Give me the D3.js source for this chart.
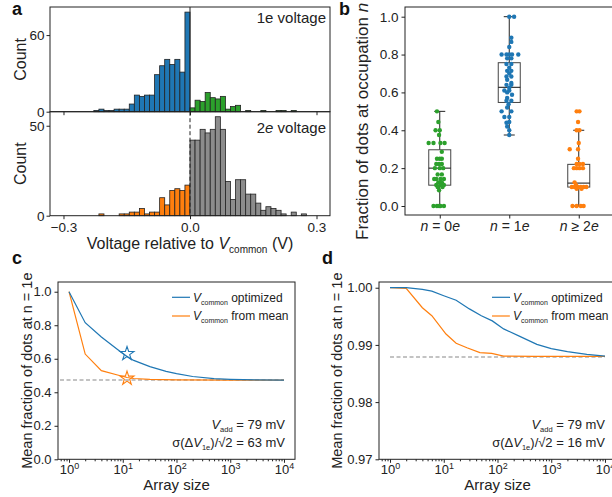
<!DOCTYPE html>
<html>
<head>
<meta charset="utf-8">
<script src="https://cdn.jsdelivr.net/npm/d3@7"></script>
<style>
  body { margin: 0; background: #fff; }
</style>
</head>
<body>
<div id="chart"></div>
<script>
const FONT = "'Liberation Sans', Arial, Helvetica, sans-serif";

// ---- panel a: histogram counts (bin width 0.012 V, listed left to right)
const BIN_W = 0.012;
const blue1eStart = -0.228;
const blue1e = [1, 2, 1, 1, 2, 2, 2, 6, 13, 12, 13, 13, 29, 36, 41, 37, 41, 31, 78];
const green1eStart = 0;
const green1e = [3, 9, 8, 15, 11, 10, 12, 2, 4, 5, 0, 1, 0, 0, 1, 0, 0, 1, 1, 0, 1];
const orange2eStart = -0.216;
const orange2e = [1, 0, 0, 0, 1, 1, 2, 2, 4, 1, 2, 2, 10, 6, 14, 15, 14, 17];
const gray2eStart = 0;
const gray2e = [42, 42, 48, 46, 48, 55, 48, 19, 9, 20, 20, 12, 12, 7, 3, 5, 4, 3, 1, 0, 2, 0, 1];
const voltTicks = [-0.3, 0, 0.3];
const countTicksTop = [0, 60];
const countTicksBot = [0, 50];

// ---- panel b: fraction per occupation
const occSigns = [" = 0", " = 1", " \u2265 2"];
const greenVals = [0.5, 0.444, 0.4, 0.4, 0.375, 0.333, 0.333, 0.333, 0.333, 0.286, 0.25, 0.25, 0.25, 0.222, 0.222, 0.222, 0.2, 0.2, 0.2, 0.167, 0.167, 0.143, 0.143, 0.143, 0.143, 0.125, 0.125, 0.111, 0.111, 0.111, 0.1, 0.1, 0.083, 0, 0, 0, 0, 0];
const greenJit  = [-0.04, -0.02, -0.06, 0, -0.01, -0.16, -0.09, 0.01, 0.07, 0.03, -0.04, 0.03, 0, -0.05, 0.03, -0.01, -0.07, 0, 0.05, 0.03, -0.03, -0.05, 0.01, 0.06, -0.08, -0.02, 0.03, -0.05, 0.01, 0.06, -0.03, 0.04, -0.01, -0.09, -0.04, 0.01, 0.06, -0.01];
const blueVals = [1, 1, 0.889, 0.867, 0.84, 0.8, 0.8, 0.8, 0.8, 0.8, 0.78, 0.78, 0.75, 0.75, 0.73, 0.714, 0.714, 0.7, 0.684, 0.684, 0.667, 0.65, 0.64, 0.64, 0.625, 0.61, 0.61, 0.6, 0.588, 0.571, 0.556, 0.556, 0.538, 0.52, 0.5, 0.5, 0.47, 0.47, 0.444, 0.44, 0.42, 0.4, 0.375];
const blueJit  = [0, 0.07, 0.03, 0.03, 0, -0.11, -0.04, 0, 0.04, 0.13, -0.03, 0.03, -0.04, 0.03, 0, -0.03, 0.03, 0, -0.04, 0.03, -0.03, 0.03, -0.04, 0.03, 0, -0.07, 0, -0.03, 0.04, -0.03, -0.04, 0.03, -0.01, -0.03, -0.11, 0.03, -0.07, 0, 0, -0.04, -0.03, 0, 0];
const orangeVals = [0.5, 0.5, 0.444, 0.4, 0.4, 0.333, 0.3, 0.3, 0.25, 0.222, 0.222, 0.222, 0.2, 0.2, 0.2, 0.2, 0.125, 0.111, 0.1, 0.1, 0.1, 0.1, 0.1, 0.1, 0.091, 0.091, 0, 0, 0, 0];
const orangeJit  = [-0.03, 0.01, -0.01, -0.03, 0.01, 0, -0.13, -0.01, -0.01, -0.03, 0.01, 0.06, -0.03, 0.01, 0.06, -0.07, -0.06, -0.04, -0.1, -0.06, -0.01, 0.03, 0.07, 0.11, -0.03, 0.04, -0.09, -0.03, 0.03, 0.07];
// box stats: [low whisker, q1, median, q3, high whisker]
const boxStats = [
  [0, 0.11, 0.2, 0.297, 0.5],
  [0.375, 0.547, 0.627, 0.757, 1.0],
  [0, 0.10, 0.121, 0.22, 0.4]
];
const fracTicks = [0, 0.2, 0.4, 0.6, 0.8, 1.0];

// ---- panel c: mean fraction vs array size (sigma 63 mV)
const cOptX = [1, 2, 4, 8, 12, 16, 32, 64, 100, 200, 500, 1000, 3000, 10000];
const cOptY = [1.0, 0.815, 0.73, 0.655, 0.613, 0.59, 0.553, 0.525, 0.511, 0.494, 0.481, 0.477, 0.474, 0.473];
const cMeanX = [1, 2, 4, 8, 12, 16, 32, 100, 1000, 10000];
const cMeanY = [1.0, 0.628, 0.529, 0.503, 0.488, 0.482, 0.477, 0.474, 0.473, 0.473];
const cLimit = 0.473;
const cStars = [[12, 0.63], [12, 0.483]];
const cTicks = [0, 0.2, 0.4, 0.6, 0.8, 1.0];

// ---- panel d: mean fraction vs array size (sigma 16 mV)
const dOptX = [1, 2, 4, 6, 10, 17, 30, 50, 80, 130, 260, 540, 1000, 2000, 4600, 10000];
const dOptY = [1.0, 1.0, 0.9997, 0.9994, 0.9986, 0.9978, 0.9963, 0.9951, 0.9942, 0.9928, 0.9915, 0.9901, 0.98935, 0.98882, 0.98835, 0.98805];
const dMeanX = [1, 2, 4, 6, 11, 17, 27, 47, 78, 130, 500, 10000];
const dMeanY = [1.0, 0.9999, 0.9965, 0.9951, 0.9919, 0.9903, 0.9895, 0.98865, 0.98853, 0.98805, 0.988, 0.98798];
const dLimit = 0.98788;
const dTicks = [0.97, 0.98, 0.99, 1.00];

const sizeTicks = [1, 10, 100, 1000, 10000];
const sizeMinor = [0.7, 0.8, 0.9, 2, 3, 4, 5, 6, 7, 8, 9, 20, 30, 40, 50, 60, 70, 80, 90,
  200, 300, 400, 500, 600, 700, 800, 900, 2000, 3000, 4000, 5000, 6000, 7000, 8000, 9000];

const C_BLUE = "#1f77b4", C_ORANGE = "#ff7f0e", C_GREEN = "#2ca02c", C_GRAY = "#8c8c8c";
const INK = "#222";

const svg = d3.select("#chart").append("svg")
  .attr("width", 612).attr("height", 497)
  .style("font-family", FONT);

function tidy(g, fs) {
  g.select(".domain").remove();
  g.selectAll(".tick line").attr("stroke", INK);
  g.selectAll(".tick text").attr("fill", INK).attr("font-size", fs).attr("font-family", FONT);
}

function frame(x0, y0, x1, y1) {
  svg.append("rect").attr("x", x0).attr("y", y0).attr("width", x1 - x0).attr("height", y1 - y0)
    .attr("fill", "none").attr("stroke", INK).attr("stroke-width", 1);
}

function panelLabel(txt, x, y) {
  svg.append("text").attr("x", x).attr("y", y).attr("font-size", 18).attr("font-weight", "bold")
    .attr("fill", "#111").text(txt);
}

// ================= panel a =================
const xA = d3.scaleLinear().domain([-0.332, 0.332]).range([50, 330]);
const yTop = d3.scaleLinear().domain([0, 82]).range([111.7, 7]);
const yBot = d3.scaleLinear().domain([0, 57.8]).range([215.7, 111.7]);

function histBars(counts, start, color, y) {
  const bins = counts.map((c, i) => ({ x0: start + i * BIN_W, c }));
  svg.append("g").selectAll("rect")
    .data(bins.filter(b => b.c > 0))
    .join("rect")
    .attr("x", b => xA(b.x0))
    .attr("width", b => xA(b.x0 + BIN_W) - xA(b.x0))
    .attr("y", b => y(b.c))
    .attr("height", b => y(0) - y(b.c))
    .attr("fill", color)
    .attr("stroke", INK)
    .attr("stroke-width", 0.8);
}

histBars(blue1e, blue1eStart, C_BLUE, yTop);
histBars(green1e, green1eStart, C_GREEN, yTop);
histBars(orange2e, orange2eStart, C_ORANGE, yBot);
histBars(gray2e, gray2eStart, C_GRAY, yBot);

// zero lines
svg.append("line").attr("x1", xA(0)).attr("x2", xA(0)).attr("y1", yTop.range()[1]).attr("y2", yTop(0))
  .attr("stroke", INK).attr("stroke-width", 1);
svg.append("line").attr("x1", xA(0)).attr("x2", xA(0)).attr("y1", yBot.range()[1]).attr("y2", yBot(0))
  .attr("stroke", INK).attr("stroke-width", 1).attr("stroke-dasharray", "4,2.5");

frame(50, 7, 330, 111.7);
frame(50, 111.7, 330, 215.7);

svg.append("g").attr("transform", "translate(50,0)")
  .call(d3.axisLeft(yTop).tickValues(countTicksTop).tickSize(3.5).tickPadding(2))
  .call(g => tidy(g, 13.5));
svg.append("g").attr("transform", "translate(50,0)")
  .call(d3.axisLeft(yBot).tickValues(countTicksBot).tickSize(3.5).tickPadding(2))
  .call(g => tidy(g, 13.5));
svg.append("g").attr("transform", `translate(0,${yTop(0)})`)
  .call(d3.axisBottom(xA).tickValues(voltTicks).tickSize(3.5).tickFormat(""))
  .call(g => tidy(g, 13.5));
svg.append("g").attr("transform", `translate(0,${yBot(0)})`)
  .call(d3.axisBottom(xA).tickValues(voltTicks).tickSize(3.5).tickPadding(3)
    .tickFormat(d => d3.format(".1f")(d).replace("-", "\u2212")))
  .call(g => tidy(g, 13.5));

svg.append("text").attr("x", 326).attr("y", 23).attr("text-anchor", "end")
  .attr("font-size", 15).attr("fill", INK).text("1e voltage");
const t2e = svg.append("text").attr("x", 326).attr("y", 133).attr("text-anchor", "end")
  .attr("font-size", 15).attr("fill", INK);
t2e.append("tspan").text("2");
t2e.append("tspan").attr("font-style", "italic").text("e");
t2e.append("tspan").text(" voltage");

[59.4, 163.7].forEach(cy => {
  svg.append("text").attr("transform", `translate(26,${cy}) rotate(-90)`)
    .attr("text-anchor", "middle").attr("font-size", 16).attr("fill", INK).text("Count");
});

const xl = svg.append("text").attr("x", 190).attr("y", 249).attr("text-anchor", "middle")
  .attr("font-size", 16).attr("fill", INK);
xl.append("tspan").text("Voltage relative to ");
xl.append("tspan").attr("font-style", "italic").text("V");
xl.append("tspan").attr("font-size", 10).attr("dy", 4).text("common");
xl.append("tspan").attr("dy", -4).text(" (V)");

panelLabel("a", 12, 15);

// ================= panel b =================
const xB = d3.scaleLinear().domain([-0.5, 2.5]).range([405, 613.5]);
const yB = d3.scaleLinear().domain([0, 1]).range([206, 16.7]);
const bw = 22;

frame(405, 7, 613.5, 215);

boxStats.forEach((s, i) => {
  const cx = xB(i);
  const g = svg.append("g");
  g.append("line").attr("x1", cx).attr("x2", cx).attr("y1", yB(s[0])).attr("y2", yB(s[1])).attr("stroke", INK);
  g.append("line").attr("x1", cx).attr("x2", cx).attr("y1", yB(s[3])).attr("y2", yB(s[4])).attr("stroke", INK);
  [s[0], s[4]].forEach(v => g.append("line").attr("x1", cx - bw / 4).attr("x2", cx + bw / 4)
    .attr("y1", yB(v)).attr("y2", yB(v)).attr("stroke", INK));
  g.append("rect").attr("x", cx - bw / 2).attr("width", bw).attr("y", yB(s[3])).attr("height", yB(s[1]) - yB(s[3]))
    .attr("fill", "none").attr("stroke", "#444").attr("stroke-width", 1);
  g.append("line").attr("x1", cx - bw / 2).attr("x2", cx + bw / 2).attr("y1", yB(s[2])).attr("y2", yB(s[2]))
    .attr("stroke", "#111").attr("stroke-width", 1);
});

[[greenVals, greenJit, C_GREEN, 0], [blueVals, blueJit, C_BLUE, 1], [orangeVals, orangeJit, C_ORANGE, 2]]
  .forEach(([vals, jit, col, i]) => {
    svg.append("g").selectAll("circle")
      .data(vals.map((v, k) => ({ v, j: jit[k] })))
      .join("circle")
      .attr("cx", d => xB(i + d.j))
      .attr("cy", d => yB(d.v))
      .attr("r", 2.2)
      .attr("fill", col);
  });

svg.append("g").attr("transform", "translate(405,0)")
  .call(d3.axisLeft(yB).tickValues(fracTicks).tickSize(3.5).tickPadding(3).tickFormat(d3.format(".1f")))
  .call(g => tidy(g, 13.5));
svg.append("g").attr("transform", "translate(0,215)")
  .call(d3.axisBottom(xB).tickValues([0, 1, 2]).tickSize(3.5).tickPadding(3))
  .call(g => tidy(g, 14))
  .call(g => g.selectAll(".tick text").each(function (d) {
    const t = d3.select(this).text("");
    t.append("tspan").attr("font-style", "italic").text("n");
    t.append("tspan").text(occSigns[d]);
    t.append("tspan").attr("font-style", "italic").text("e");
  }));

const yl = svg.append("text").attr("transform", "translate(368,240) rotate(-90)")
  .attr("text-anchor", "start").attr("font-size", 17).attr("fill", INK);
yl.append("tspan").text("Fraction of dots at occupation ");
yl.append("tspan").attr("font-style", "italic").text("n");

panelLabel("b", 339, 15);

// ================= panels c and d =================
function arrayPanel(opts) {
  const x = d3.scaleLog().domain([Math.pow(10, -0.205), Math.pow(10, 4.205)]).range([opts.x0, opts.x1]);
  const y = d3.scaleLinear().domain(opts.yDom).range([459.3, 282]);
  const line = d3.line().x(d => x(d[0])).y(d => y(d[1]));

  svg.append("line").attr("x1", x(opts.dashFrom)).attr("x2", x(10000)).attr("y1", y(opts.limit)).attr("y2", y(opts.limit))
    .attr("stroke", "#888").attr("stroke-width", 1.1).attr("stroke-dasharray", "4,2.5");

  svg.append("path").datum(opts.meanX.map((v, i) => [v, opts.meanY[i]]))
    .attr("d", line).attr("fill", "none").attr("stroke", C_ORANGE).attr("stroke-width", 1.2);
  svg.append("path").datum(opts.optX.map((v, i) => [v, opts.optY[i]]))
    .attr("d", line).attr("fill", "none").attr("stroke", C_BLUE).attr("stroke-width", 1.2);

  (opts.stars || []).forEach((s, i) => {
    svg.append("path").attr("d", d3.symbol(d3.symbolStar, 60)())
      .attr("transform", `translate(${x(s[0])},${y(s[1])})`)
      .attr("fill", "none").attr("stroke", i === 0 ? C_BLUE : C_ORANGE).attr("stroke-width", 1.1);
  });

  frame(opts.x0, 282, opts.x1, 459.3);

  svg.append("g").attr("transform", `translate(${opts.x0},0)`)
    .call(d3.axisLeft(y).tickValues(opts.yTicks).tickSize(3.5).tickPadding(3).tickFormat(d3.format(opts.yFmt)))
    .call(g => tidy(g, 13));
  svg.append("g").attr("transform", "translate(0,459.3)")
    .call(d3.axisBottom(x).tickValues(sizeMinor.filter(v => x(v) > opts.x0 && x(v) < opts.x1)).tickSize(2).tickFormat(""))
    .call(g => tidy(g, 13));
  svg.append("g").attr("transform", "translate(0,459.3)")
    .call(d3.axisBottom(x).tickValues(sizeTicks).tickSize(3.5).tickPadding(2))
    .call(g => tidy(g, 13))
    .call(g => g.selectAll(".tick text").each(function (d) {
      const t = d3.select(this).text("");
      t.append("tspan").text("10");
      t.append("tspan").attr("font-size", 9).attr("dy", -5).text(Math.round(Math.log10(d)));
    }));

  const cx = (opts.x0 + opts.x1) / 2;
  svg.append("text").attr("x", cx).attr("y", 490).attr("text-anchor", "middle")
    .attr("font-size", 15).attr("fill", INK).text("Array size");
  svg.append("text").attr("transform", `translate(${opts.x0 - opts.labOff},${(282 + 459.3) / 2}) rotate(-90)`)
    .attr("text-anchor", "middle").attr("font-size", 14.5).attr("fill", INK)
    .text("Mean fraction of dots at n = 1e");

  // legend
  [[C_BLUE, " optimized", 297.3], [C_ORANGE, " from mean", 316]].forEach(([col, txt, ly]) => {
    svg.append("line").attr("x1", opts.legX).attr("x2", opts.legX + 18).attr("y1", ly).attr("y2", ly)
      .attr("stroke", col).attr("stroke-width", 1.2);
    const t = svg.append("text").attr("x", opts.legX + 21).attr("y", ly + 4.3).attr("font-size", 12).attr("fill", INK);
    t.append("tspan").attr("font-style", "italic").text("V");
    t.append("tspan").attr("font-size", 7).attr("dy", 3).text("common");
    t.append("tspan").attr("dy", -3).text(txt);
  });

  // annotation
  const a1 = svg.append("text").attr("x", opts.annX).attr("y", 429).attr("text-anchor", "end")
    .attr("font-size", 13).attr("fill", INK);
  a1.append("tspan").attr("font-style", "italic").text("V");
  a1.append("tspan").attr("font-size", 7.5).attr("dy", 3).text("add");
  a1.append("tspan").attr("dy", -3).text(" = 79 mV");
  const a2 = svg.append("text").attr("x", opts.annX).attr("y", 447).attr("text-anchor", "end")
    .attr("font-size", 13).attr("fill", INK);
  a2.append("tspan").text("\u03c3(\u0394");
  a2.append("tspan").attr("font-style", "italic").text("V");
  a2.append("tspan").attr("font-size", 7.5).attr("dy", 3).text("1e");
  a2.append("tspan").attr("dy", -3).text(")/\u221a2 = " + opts.sigma + " mV");
}

arrayPanel({
  x0: 58, x1: 295, yDom: [0, 1.058], yTicks: cTicks, yFmt: ".1f", labOff: 26,
  optX: cOptX, optY: cOptY, meanX: cMeanX, meanY: cMeanY, limit: cLimit, dashFrom: 0.68,
  stars: cStars, legX: 172, annX: 285, sigma: 63
});
arrayPanel({
  x0: 379, x1: 616, yDom: [0.97, 1.001], yTicks: dTicks, yFmt: ".2f", labOff: 37,
  optX: dOptX, optY: dOptY, meanX: dMeanX, meanY: dMeanY, limit: dLimit, dashFrom: 1,
  stars: [], legX: 492, annX: 605, sigma: 16
});

panelLabel("c", 12, 264);
panelLabel("d", 322, 264);
</script>
</body>
</html>
